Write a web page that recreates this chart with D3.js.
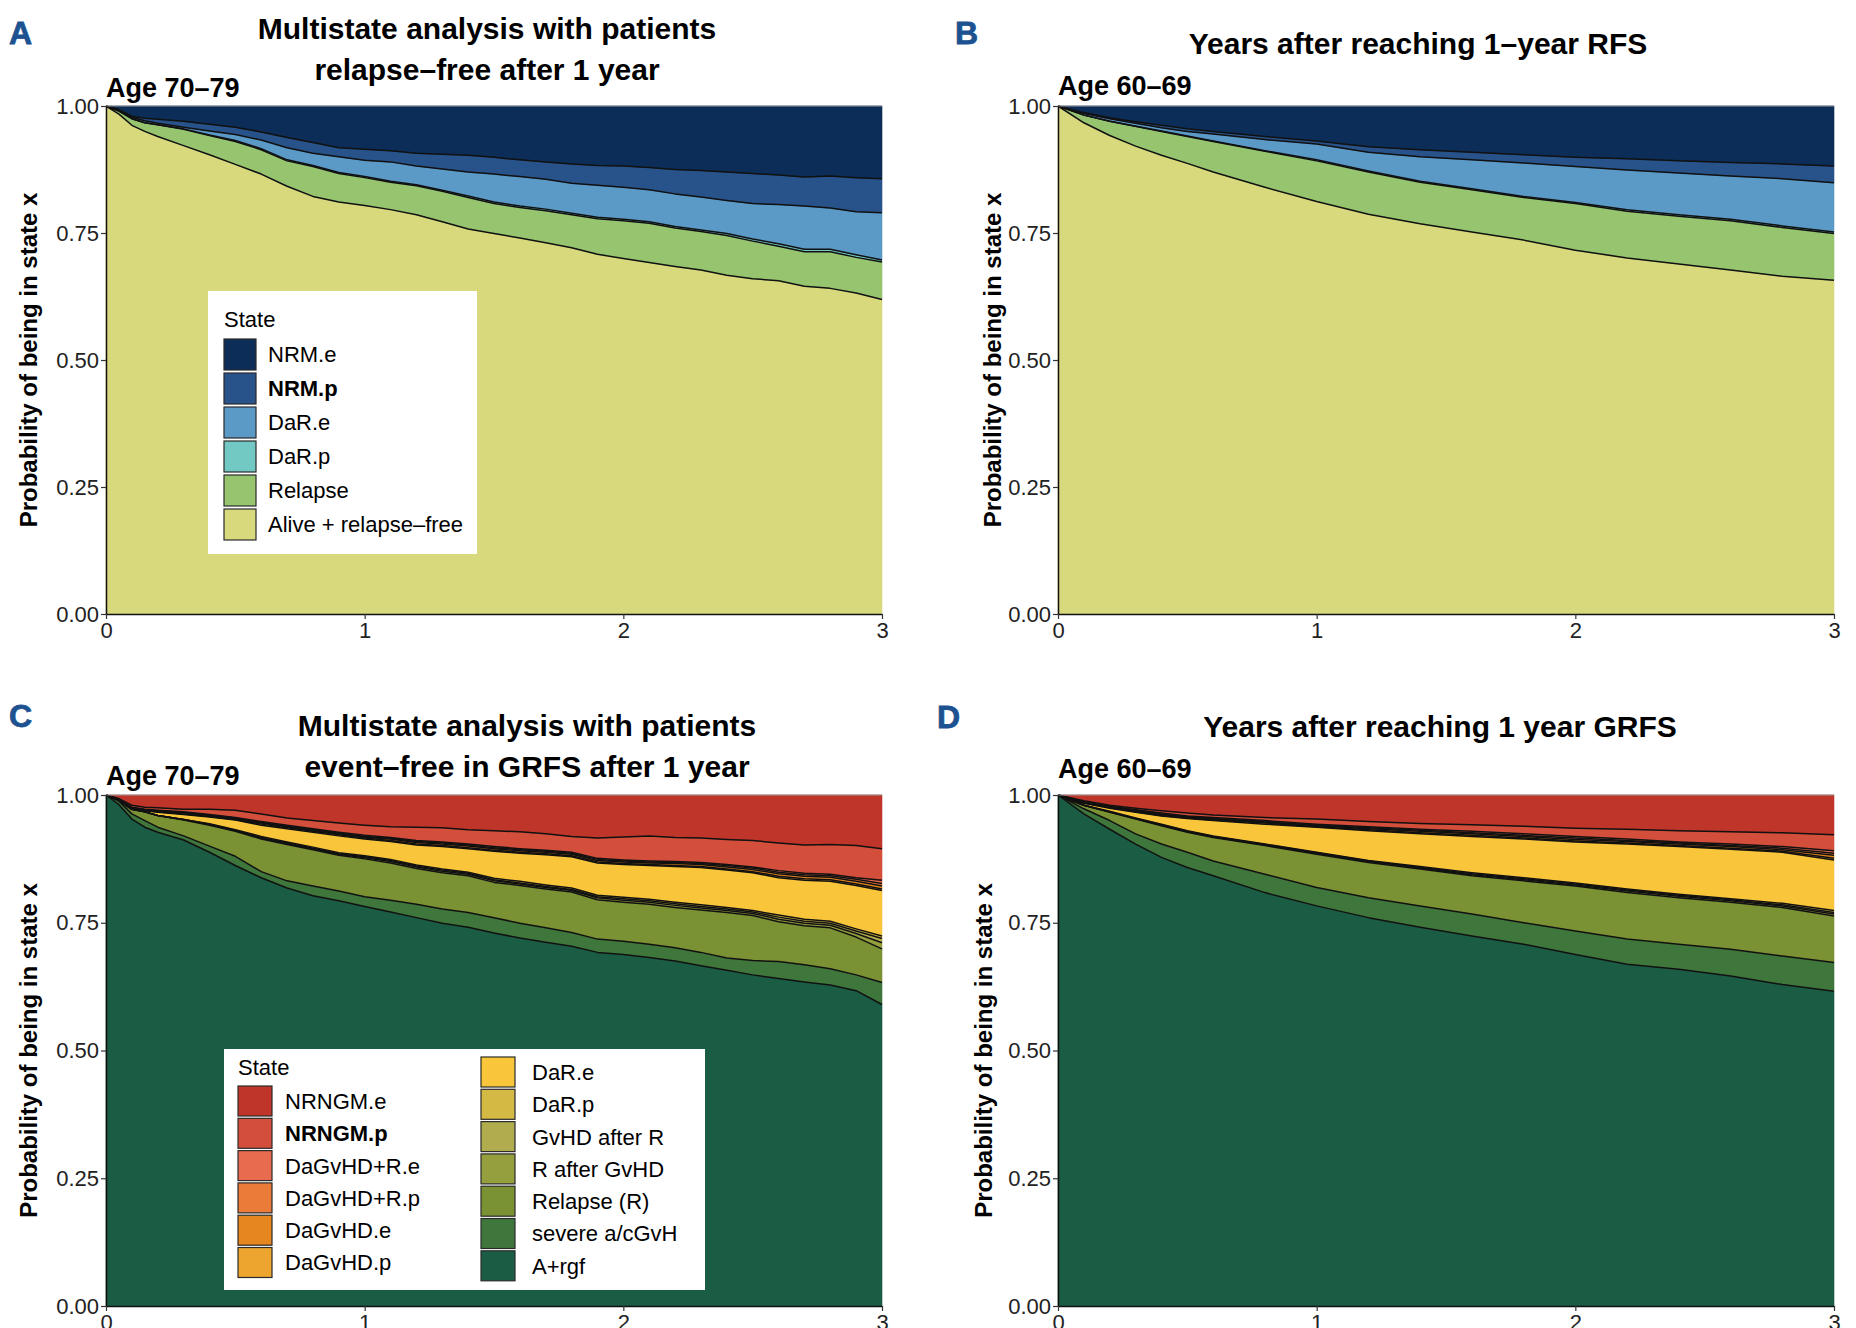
<!DOCTYPE html>
<html>
<head>
<meta charset="utf-8">
<script src="https://cdn.jsdelivr.net/npm/d3@7"></script>
<style>
  body { margin: 0; background: #fff; }
  svg { display: block; }
  text { font-family: 'Liberation Sans', Arial, sans-serif; }
</style>
</head>
<body>
<svg id="fig"></svg>
<script>
// states, bottom of the stack first
const rfsStates = ['Alive + relapse–free', 'Relapse', 'DaR.p', 'DaR.e', 'NRM.p', 'NRM.e'];
const rfsColors = ['#d8d97d', '#97c46f', '#72c9c3', '#5b9ac7', '#28538a', '#0c2d57'];

const grfsStates = ['A+rgf', 'severe a/cGvH', 'Relapse (R)', 'R after GvHD', 'GvHD after R', 'DaR.p', 'DaR.e',
                    'DaGvHD.p', 'DaGvHD.e', 'DaGvHD+R.p', 'DaGvHD+R.e', 'NRNGM.p', 'NRNGM.e'];
const grfsColors = ['#1a5c44', '#3e763c', '#7a9134', '#969f3e', '#b1ad4f', '#d5b945', '#f9c53a',
                    '#eda52f', '#e5861e', '#ea7b38', '#e86b4f', '#d44f3b', '#c0352a'];

const yTicks = [0, 0.25, 0.5, 0.75, 1];
const xTicks = [0, 1, 2, 3];

// A: age 70-79, relapse-free after 1 year
const tA = [0,0.05,0.1,0.15,0.2,0.3,0.4,0.5,0.6,0.7,0.8,0.9,1.0,1.1,1.2,1.3,1.4,1.5,1.6,1.7,1.8,1.9,2.0,2.1,2.2,2.3,2.4,2.5,2.6,2.7,2.8,2.9,3.0];
const aliveA   = [1.000,0.984,0.962,0.950,0.940,0.922,0.904,0.885,0.866,0.842,0.822,0.811,0.804,0.796,0.786,0.772,0.758,0.749,0.740,0.731,0.721,0.708,0.700,0.692,0.684,0.677,0.667,0.660,0.656,0.645,0.641,0.632,0.619];
const relapseA = [0,0.006,0.013,0.017,0.023,0.032,0.038,0.045,0.048,0.050,0.059,0.056,0.055,0.054,0.057,0.060,0.062,0.059,0.060,0.063,0.065,0.070,0.074,0.077,0.076,0.076,0.078,0.074,0.068,0.068,0.072,0.070,0.074];
const darPA    = [0,0,0,0,0,0.001,0.001,0.002,0.002,0.002,0.002,0.002,0.002,0.002,0.002,0.002,0.003,0.003,0.003,0.003,0.003,0.003,0.003,0.003,0.003,0.003,0.004,0.004,0.005,0.005,0.005,0.005,0.004];
const darEA    = [0,0.002,0.003,0.004,0.003,0.003,0.008,0.012,0.017,0.024,0.024,0.031,0.032,0.038,0.037,0.042,0.047,0.055,0.058,0.059,0.059,0.063,0.063,0.063,0.064,0.065,0.065,0.070,0.077,0.085,0.081,0.085,0.093];
const nrmPA    = [0,0.001,0.002,0.005,0.008,0.012,0.013,0.014,0.016,0.020,0.021,0.018,0.022,0.022,0.025,0.029,0.033,0.033,0.033,0.034,0.038,0.039,0.042,0.044,0.048,0.052,0.056,0.059,0.058,0.057,0.063,0.067,0.067];
const nrmEA    = [0,0.007,0.020,0.024,0.026,0.030,0.036,0.042,0.051,0.062,0.072,0.082,0.085,0.088,0.093,0.095,0.097,0.101,0.106,0.110,0.114,0.117,0.118,0.121,0.125,0.127,0.130,0.133,0.136,0.140,0.138,0.141,0.143];

// B: age 60-69, after reaching 1-year RFS
const tB = [0,0.1,0.2,0.3,0.4,0.5,0.6,0.8,1.0,1.2,1.4,1.6,1.8,2.0,2.2,2.4,2.6,2.8,3.0];
const aliveB   = [1,0.967,0.942,0.921,0.903,0.887,0.870,0.840,0.812,0.787,0.768,0.752,0.736,0.716,0.701,0.689,0.677,0.665,0.657];
const relapseB = [0,0.015,0.028,0.039,0.047,0.053,0.060,0.071,0.080,0.083,0.082,0.083,0.084,0.092,0.092,0.094,0.097,0.096,0.092];
const darPB    = [0,0,0,0,0.001,0.001,0.001,0.001,0.002,0.002,0.002,0.002,0.002,0.002,0.003,0.003,0.003,0.003,0.003];
const darEB    = [0,0.003,0.005,0.006,0.006,0.009,0.014,0.022,0.031,0.037,0.048,0.057,0.066,0.071,0.078,0.082,0.085,0.093,0.097];
const nrmPB    = [0,0.002,0.002,0.003,0.005,0.005,0.005,0.006,0.006,0.011,0.014,0.015,0.016,0.018,0.022,0.024,0.027,0.029,0.033];
const nrmEB    = [0,0.013,0.023,0.031,0.038,0.045,0.050,0.060,0.069,0.080,0.086,0.091,0.096,0.101,0.104,0.108,0.111,0.114,0.118];

// C: age 70-79, event-free in GRFS after 1 year
const tC = [0,0.05,0.1,0.15,0.2,0.3,0.4,0.5,0.6,0.7,0.8,0.9,1.0,1.1,1.2,1.3,1.4,1.5,1.6,1.7,1.8,1.9,2.0,2.1,2.2,2.3,2.4,2.5,2.6,2.7,2.8,2.9,3.0];
const argfC      = [1.0,0.981,0.953,0.937,0.927,0.912,0.888,0.862,0.838,0.818,0.803,0.793,0.782,0.771,0.760,0.749,0.741,0.730,0.720,0.712,0.704,0.692,0.688,0.682,0.675,0.666,0.657,0.648,0.641,0.634,0.628,0.617,0.590];
const severeC    = [0,0.007,0.010,0.013,0.010,0.008,0.012,0.018,0.012,0.014,0.019,0.019,0.019,0.023,0.026,0.028,0.029,0.030,0.029,0.028,0.027,0.026,0.026,0.026,0.026,0.026,0.024,0.028,0.033,0.034,0.032,0.031,0.043];
const relapseC   = [0,0.002,0.009,0.017,0.023,0.031,0.041,0.049,0.064,0.071,0.071,0.070,0.074,0.073,0.070,0.071,0.072,0.069,0.074,0.076,0.079,0.077,0.076,0.078,0.079,0.083,0.089,0.088,0.078,0.076,0.080,0.074,0.066];
const rAfterC    = [0,0,0,0,0,0.001,0.001,0.001,0.002,0.002,0.002,0.002,0.002,0.003,0.003,0.003,0.003,0.003,0.003,0.003,0.003,0.004,0.004,0.004,0.004,0.004,0.004,0.004,0.005,0.005,0.005,0.007,0.012];
const gvhdAfterC = [0,0,0,0,0,0,0.001,0.001,0.001,0.001,0.001,0.001,0.002,0.002,0.002,0.002,0.002,0.002,0.002,0.002,0.002,0.002,0.003,0.003,0.003,0.003,0.003,0.003,0.004,0.004,0.004,0.005,0.008];
const darPC      = [0,0,0,0,0,0,0.001,0.001,0.002,0.002,0.002,0.002,0.002,0.002,0.002,0.002,0.002,0.003,0.003,0.003,0.003,0.003,0.003,0.003,0.003,0.003,0.003,0.003,0.004,0.004,0.004,0.004,0.005];
const darEC      = [0,0,0.001,0.002,0.006,0.010,0.013,0.019,0.022,0.026,0.029,0.033,0.033,0.035,0.039,0.044,0.046,0.053,0.055,0.059,0.061,0.063,0.064,0.066,0.070,0.073,0.073,0.074,0.073,0.076,0.078,0.085,0.089];
const dagvhdPC   = [0,0,0.001,0.001,0.001,0.001,0.001,0.001,0.002,0.002,0.002,0.002,0.002,0.002,0.002,0.002,0.002,0.002,0.002,0.002,0.002,0.002,0.002,0.002,0.002,0.002,0.002,0.002,0.003,0.003,0.003,0.003,0.003];
const dagvhdEC   = [0,0,0.001,0.001,0.001,0.002,0.002,0.002,0.002,0.002,0.002,0.002,0.002,0.003,0.003,0.003,0.003,0.003,0.003,0.003,0.003,0.003,0.003,0.003,0.004,0.004,0.004,0.004,0.005,0.005,0.005,0.005,0.006];
const dagvhdRPC  = [0,0,0,0,0.001,0.001,0.001,0.001,0.001,0.001,0.001,0.001,0.001,0.001,0.002,0.002,0.002,0.002,0.002,0.002,0.002,0.002,0.002,0.002,0.002,0.002,0.003,0.003,0.003,0.003,0.003,0.004,0.005];
const dagvhdREC  = [0,0.001,0.001,0.001,0.001,0.001,0.001,0.001,0.002,0.002,0.002,0.002,0.002,0.002,0.002,0.002,0.002,0.002,0.002,0.002,0.002,0.002,0.002,0.002,0.002,0.002,0.002,0.002,0.003,0.003,0.003,0.003,0.006];
const nrngmPC    = [0,0.002,0.004,0.004,0.005,0.005,0.010,0.014,0.015,0.014,0.016,0.018,0.020,0.021,0.026,0.028,0.028,0.031,0.033,0.032,0.031,0.040,0.045,0.049,0.047,0.048,0.049,0.052,0.054,0.055,0.058,0.063,0.062];
const nrngmEC    = [0,0.007,0.020,0.024,0.025,0.028,0.028,0.030,0.037,0.045,0.050,0.055,0.059,0.062,0.063,0.064,0.068,0.070,0.072,0.076,0.081,0.084,0.082,0.080,0.083,0.084,0.087,0.089,0.094,0.098,0.097,0.099,0.105];

// D: age 60-69, after reaching 1 year GRFS
const tD = [0,0.1,0.2,0.3,0.4,0.5,0.6,0.8,1.0,1.2,1.4,1.6,1.8,2.0,2.2,2.4,2.6,2.8,3.0];
const argfD      = [1,0.963,0.933,0.904,0.878,0.858,0.842,0.809,0.783,0.760,0.741,0.724,0.708,0.688,0.669,0.659,0.646,0.629,0.616];
const severeD    = [0,0.010,0.017,0.020,0.026,0.030,0.029,0.036,0.036,0.039,0.042,0.043,0.042,0.046,0.049,0.049,0.052,0.056,0.056];
const relapseD   = [0,0.007,0.016,0.029,0.036,0.039,0.046,0.056,0.065,0.069,0.072,0.075,0.082,0.088,0.091,0.091,0.092,0.095,0.091];
const rAfterD    = [0,0,0.001,0.001,0.001,0.001,0.001,0.001,0.002,0.002,0.002,0.002,0.002,0.002,0.003,0.003,0.003,0.003,0.004];
const gvhdAfterD = [0,0,0,0,0.001,0.001,0.001,0.001,0.001,0.001,0.001,0.002,0.002,0.002,0.002,0.002,0.002,0.002,0.003];
const darPD      = [0,0,0.001,0.001,0.001,0.001,0.001,0.001,0.001,0.001,0.002,0.002,0.002,0.002,0.002,0.002,0.002,0.003,0.004];
const darED      = [0,0.004,0.006,0.011,0.016,0.024,0.030,0.039,0.049,0.058,0.064,0.071,0.076,0.080,0.088,0.093,0.097,0.100,0.099];
const dagvhdPD   = [0,0.001,0.001,0.001,0.001,0.001,0.001,0.002,0.001,0.002,0.002,0.002,0.002,0.002,0.002,0.002,0.002,0.002,0.003];
const dagvhdED   = [0,0.001,0.001,0.002,0.002,0.002,0.002,0.002,0.002,0.002,0.003,0.003,0.003,0.003,0.003,0.003,0.003,0.003,0.006];
const dagvhdRPD  = [0,0,0.001,0.001,0.001,0.001,0.001,0.001,0.001,0.002,0.002,0.002,0.002,0.003,0.002,0.002,0.002,0.003,0.004];
const dagvhdRED  = [0,0.001,0.001,0.001,0.002,0.001,0.002,0.002,0.002,0.002,0.002,0.003,0.003,0.003,0.003,0.002,0.003,0.003,0.005];
const nrngmPD    = [0,0.002,0.002,0.003,0.004,0.006,0.005,0.006,0.010,0.010,0.011,0.013,0.015,0.016,0.019,0.022,0.024,0.027,0.031];
const nrngmED    = [0,0.011,0.020,0.026,0.031,0.035,0.039,0.044,0.047,0.052,0.056,0.058,0.061,0.065,0.067,0.070,0.072,0.074,0.078];

const width = 1856;
const height = 1328;
const letterColor = '#1d5291';

const svg = d3.select('#fig')
            .attr('width', width)
            .attr('height', height);

const panels = [
    { letter: 'A', lx: 9, ly: 44, title: ['Multistate analysis with patients', 'relapse–free after 1 year'],
      tx: 487, ty: [39, 80], age: 'Age 70–79', ay: 97, yTitleX: 37,
      left: 106, right: 882, top: 106, bottom: 614,
      times: tA, keys: rfsStates, colors: rfsColors,
      values: [aliveA, relapseA, darPA, darEA, nrmPA, nrmEA] },
    { letter: 'B', lx: 955, ly: 44, title: ['Years after reaching 1–year RFS'],
      tx: 1418, ty: [54], age: 'Age 60–69', ay: 95, yTitleX: 1001,
      left: 1058, right: 1834, top: 106, bottom: 614,
      times: tB, keys: rfsStates, colors: rfsColors,
      values: [aliveB, relapseB, darPB, darEB, nrmPB, nrmEB] },
    { letter: 'C', lx: 9, ly: 727, title: ['Multistate analysis with patients', 'event–free in GRFS after 1 year'],
      tx: 527, ty: [736, 777], age: 'Age 70–79', ay: 785, yTitleX: 37,
      left: 106, right: 882, top: 795, bottom: 1306,
      times: tC, keys: grfsStates, colors: grfsColors,
      values: [argfC, severeC, relapseC, rAfterC, gvhdAfterC, darPC, darEC,
               dagvhdPC, dagvhdEC, dagvhdRPC, dagvhdREC, nrngmPC, nrngmEC] },
    { letter: 'D', lx: 937, ly: 728, title: ['Years after reaching 1 year GRFS'],
      tx: 1440, ty: [737], age: 'Age 60–69', ay: 778, yTitleX: 992,
      left: 1058, right: 1834, top: 795, bottom: 1306,
      times: tD, keys: grfsStates, colors: grfsColors,
      values: [argfD, severeD, relapseD, rAfterD, gvhdAfterD, darPD, darED,
               dagvhdPD, dagvhdED, dagvhdRPD, dagvhdRED, nrngmPD, nrngmED] }
];

panels.forEach(drawPanel);

drawLegend(rfsStates.slice().reverse(), rfsColors.slice().reverse(),
           { x: 208, y: 291, w: 269, h: 263, titleY: 327, cols: [{ n: 6, kx: 224, ky: 339, lx: 268 }],
             kw: 32, kh: 31, pitch: 34, bold: 'NRM.p' });

drawLegend(grfsStates.slice().reverse(), grfsColors.slice().reverse(),
           { x: 224, y: 1049, w: 481, h: 241, titleY: 1075,
             cols: [{ n: 6, kx: 238, ky: 1086, lx: 285 }, { n: 7, kx: 481, ky: 1057, lx: 532 }],
             kw: 34, kh: 30, pitch: 32.3, bold: 'NRNGM.p' });


function drawPanel(p) {
    const x = d3.scaleLinear().domain([0, 3]).range([p.left, p.right]);
    const y = d3.scaleLinear().domain([0, 1]).range([p.bottom, p.top]);

    const rows = p.times.map((t, i) => {
        const row = { t: t };
        p.keys.forEach((k, j) => { row[k] = p.values[j][i]; });
        return row;
    });
    const series = d3.stack().keys(p.keys)(rows);

    const g = svg.append('g');

    g.selectAll('path.layer').data(series).enter().append('path')
        .attr('class', 'layer')
        .attr('fill', (d, i) => p.colors[i])
        .attr('stroke', (d, i) => p.colors[i])
        .attr('stroke-width', 0.6)
        .attr('d', d3.area().x(d => x(d.data.t)).y0(d => y(d[0])).y1(d => y(d[1])));

    // black outline between states, like geom_area(colour = 'black')
    g.selectAll('path.edge').data(series.slice(0, -1)).enter().append('path')
        .attr('class', 'edge')
        .attr('fill', 'none')
        .attr('stroke', '#111')
        .attr('stroke-width', 1.5)
        .attr('stroke-linejoin', 'round')
        .attr('d', d3.line().x(d => x(d.data.t)).y(d => y(d[1])));

    g.append('line')
        .attr('x1', p.left).attr('x2', p.right)
        .attr('y1', p.top).attr('y2', p.top)
        .attr('stroke', '#9a9a9a').attr('stroke-width', 1);

    const yAxis = g.append('g').attr('transform', `translate(${p.left}, 0)`)
        .call(d3.axisLeft(y).tickValues(yTicks).tickFormat(d3.format('.2f')).tickSize(5).tickSizeOuter(0).tickPadding(2));
    const xAxis = g.append('g').attr('transform', `translate(0, ${p.bottom})`)
        .call(d3.axisBottom(x).tickValues(xTicks).tickFormat(d3.format('d')).tickSize(5).tickSizeOuter(0).tickPadding(3));

    [yAxis, xAxis].forEach(a => {
        a.select('.domain').attr('stroke', '#111').attr('stroke-width', 1.5);
        a.selectAll('.tick line').attr('stroke', '#333').attr('stroke-width', 1.2);
        a.selectAll('.tick text').attr('fill', '#222')
            .style('font-family', "'Liberation Sans', Arial, sans-serif")
            .style('font-size', '22px');
    });

    g.append('text')
        .attr('transform', `translate(${p.yTitleX}, ${(p.top + p.bottom) / 2}) rotate(-90)`)
        .attr('text-anchor', 'middle')
        .style('font-size', '24px').style('font-weight', 'bold')
        .text('Probability of being in state x');

    p.title.forEach((line, i) => {
        g.append('text')
            .attr('x', p.tx).attr('y', p.ty[i])
            .attr('text-anchor', 'middle')
            .style('font-size', '30px').style('font-weight', 'bold')
            .text(line);
    });

    g.append('text')
        .attr('x', p.left).attr('y', p.ay)
        .style('font-size', '27px').style('font-weight', 'bold')
        .text(p.age);

    g.append('text')
        .attr('x', p.lx).attr('y', p.ly)
        .attr('fill', letterColor)
        .attr('stroke', letterColor).attr('stroke-width', 0.8)
        .style('font-size', '32px').style('font-weight', 'bold')
        .text(p.letter);
}

function drawLegend(names, colors, o) {
    const g = svg.append('g');

    g.append('rect')
        .attr('x', o.x).attr('y', o.y)
        .attr('width', o.w).attr('height', o.h)
        .attr('fill', '#fff');

    g.append('text')
        .attr('x', o.cols[0].kx).attr('y', o.titleY)
        .style('font-size', '22px')
        .text('State');

    let k = 0;
    o.cols.forEach(c => {
        for (let i = 0; i < c.n; i++, k++) {
            const ky = c.ky + i * o.pitch;
            g.append('rect')
                .attr('x', c.kx).attr('y', ky)
                .attr('width', o.kw).attr('height', o.kh)
                .attr('fill', colors[k])
                .attr('stroke', '#2a2a2a').attr('stroke-width', 1.2);
            g.append('text')
                .attr('x', c.lx).attr('y', ky + o.kh / 2)
                .attr('dy', '0.36em')
                .style('font-size', '22px')
                .style('font-weight', names[k] === o.bold ? 'bold' : 'normal')
                .text(names[k]);
        }
    });
}
</script>
</body>
</html>
